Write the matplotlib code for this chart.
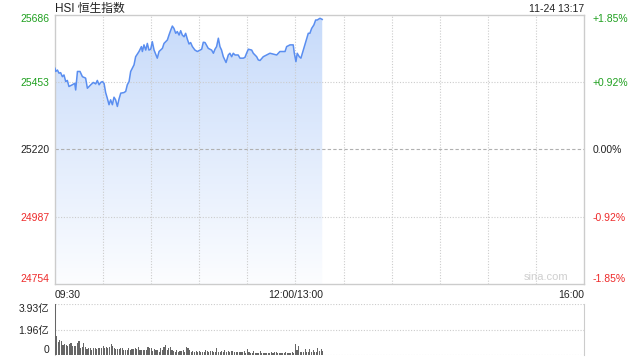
import numpy as np
import matplotlib
matplotlib.use("Agg")
import matplotlib.pyplot as plt

plt.rcParams['font.family'] = ['Liberation Sans', 'Noto Sans CJK SC', 'DejaVu Sans']

PREV_CLOSE = 25220
Y_LOW, Y_HIGH = 24754, 25686
GREEN = '#1fa01f'
RED = '#ee2a2a'
GRID = '#cccccc'

# minutes since 09:30 (lunch break removed: 150 = 12:00/13:00)
price_t = [0, 0.4, 1.5, 2.5, 3.5, 4.6, 5.6, 6.7, 7.7, 8.7, 10.8, 12.3, 12.9, 14, 15.6,
           17.1, 19.1, 20.2, 22.3, 23.9, 25.4, 26.4, 27.5, 28.5, 29.5, 30.6, 31.6, 32.6,
           33.7, 34.7, 35.8, 36.8, 37.8, 38.9, 39.9, 41, 43, 44.1, 45.1, 46.2, 47.2, 49.3,
           50.3, 52.4, 53.9, 54.5, 55.5, 56.6, 57.6, 58.6, 59.7, 60.7, 61.8, 63.8, 64.9,
           67, 68, 70.1, 71.1, 72.2, 73.2, 74.2, 75.3, 76.3, 77.4, 78.4, 79.4, 80.5, 81.5,
           82.6, 83.6, 84.6, 85.7, 87.3, 88.8, 90.4, 91.5, 92.5, 93.6, 95.6, 97.7, 98.8,
           99.8, 100.8, 101.9, 102.9, 103.9, 105, 106.7, 108.1, 109.1, 110.2, 111.2, 112.3,
           114.3, 115.4, 117.5, 118.5, 119.5, 120.6, 122.7, 123.7, 125.8, 126.8, 127.9,
           129.9, 132, 134.1, 138.3, 140.3, 143.5, 144.5, 146.6, 148.6, 149.3, 150.3, 151.1,
           152.4, 153.4, 154.9, 156.5, 158, 159, 160.1, 161.5, 162.6, 163.6, 165.3, 166.7]
price = [25500, 25489, 25494, 25483, 25485, 25471, 25477, 25454, 25458, 25437, 25443, 25448,
         25425, 25489, 25489, 25471, 25466, 25431, 25443, 25451, 25446, 25458, 25443, 25451,
         25454, 25448, 25416, 25397, 25374, 25391, 25374, 25400, 25391, 25368, 25393, 25414,
         25416, 25420, 25443, 25454, 25489, 25512, 25540, 25558, 25575, 25558, 25581, 25563,
         25586, 25563, 25566, 25592, 25563, 25535, 25558, 25569, 25586, 25598, 25615, 25632,
         25646, 25638, 25621, 25627, 25615, 25630, 25615, 25609, 25621, 25600, 25584, 25589,
         25575, 25563, 25558, 25563, 25566, 25590, 25589, 25569, 25563, 25552, 25566, 25575,
         25604, 25575, 25563, 25540, 25520, 25546, 25552, 25540, 25552, 25546, 25546, 25535,
         25535, 25538, 25552, 25566, 25563, 25552, 25540, 25529, 25527, 25540, 25546, 25552,
         25546, 25558, 25558, 25575, 25581, 25581, 25552, 25523, 25552, 25540, 25535, 25563,
         25592, 25621, 25621, 25638, 25650, 25667, 25667, 25673, 25669]

# volume per minute, in 亿
volume = [3.93, 1.47, 0.98, 1.16, 1.08, 0.77, 0.85, 0.80, 0.72, 0.83, 0.90, 0.70, 0.72, 0.72,
          0.90, 1.08, 0.57, 0.60, 0.90, 0.62, 0.46, 0.57, 0.52, 0.41, 0.52, 0.52, 0.50, 0.52,
          0.52, 0.52, 0.67, 0.57, 0.62, 0.57, 0.60, 0.83, 0.67, 0.52, 0.46, 0.46, 0.48, 0.52,
          0.52, 0.39, 0.39, 0.41, 0.52, 0.39, 0.46, 0.50, 0.57, 0.46, 0.62, 0.39, 0.39, 0.39,
          0.39, 0.39, 0.64, 0.52, 0.52, 0.31, 0.46, 0.39, 0.36, 0.26, 0.52, 0.39, 0.64, 0.77,
          0.39, 0.52, 0.59, 0.39, 0.31, 0.26, 0.39, 0.21, 0.31, 0.31, 0.39, 0.26, 0.62, 0.57,
          0.39, 0.21, 0.33, 0.26, 0.31, 0.26, 0.31, 0.21, 0.26, 0.26, 0.39, 0.31, 0.26, 0.31,
          0.31, 0.21, 0.26, 0.52, 0.26, 0.26, 0.31, 0.26, 0.36, 0.21, 0.31, 0.26, 0.33, 0.28,
          0.26, 0.26, 0.21, 0.26, 0.21, 0.26, 0.31, 0.15, 0.46, 0.21, 0.15, 0.15, 0.31, 0.15,
          0.15, 0.15, 0.31, 0.15, 0.15, 0.15, 0.13, 0.15, 0.13, 0.21, 0.13, 0.26, 0.21, 0.15,
          0.15, 0.13, 0.15, 0.13, 0.21, 0.15, 0.13, 0.15, 0.21, 0.13, 0.85, 0.39, 0.70, 0.21,
          0.21, 0.26, 0.46, 0.26, 0.21, 0.46, 0.26, 0.36, 0.26, 0.21, 0.52, 0.31, 0.46, 0.31]

price_ticks = [24754, 24987, 25220, 25453, 25686]
x_ticks = [0, 150, 330]
x_labels = ['09:30', '12:00/13:00', '16:00']
vol_ticks = [0, 1.96, 3.93]
vol_labels = ['0', '1.96亿', '3.93亿']


def tick_color(v):
    if v > PREV_CLOSE:
        return GREEN
    if v < PREV_CLOSE:
        return RED
    return '#222222'


fig = plt.figure(figsize=(6.4, 3.6), dpi=100)
ax = fig.add_axes([55 / 640, 1 - 284 / 360, 529 / 640, 269.5 / 360])
axv = fig.add_axes([55 / 640, 1 - 355 / 360, 529 / 640, 51 / 360])

# price panel
ax.set_xlim(0, 330)
ax.set_ylim(Y_LOW, Y_HIGH)
for s in ax.spines.values():
    s.set_color(GRID)
    s.set_linewidth(1)

# grid drawn over the fill, under the line
for m in range(30, 330, 30):
    ax.axvline(m, color=GRID, lw=0.8, ls=(0, (1, 1.5)), zorder=2.5)
for v in [24987, 25453]:
    ax.axhline(v, color=GRID, lw=0.8, ls=(0, (1, 1.5)), zorder=2.5)
ax.axhline(PREV_CLOSE, color='#b0b0b0', lw=0.8, ls=(0, (3, 2)), zorder=2.5)

poly = ax.fill_between(price_t, price, Y_LOW, facecolor='none', edgecolor='none')
top = np.array([198, 218, 250]) / 255
bottom = np.array([252, 253, 255]) / 255
frac = np.linspace(0, 1, 256)[:, None]
grad = (top * (1 - frac) + bottom * frac)[:, None, :]
im = ax.imshow(grad, extent=[0, 330, Y_LOW, Y_HIGH], aspect='auto', origin='upper', zorder=2)
im.set_clip_path(poly.get_paths()[0], transform=ax.transData)
ax.plot(price_t, price, color='#5a8ef0', lw=1.1, zorder=3)

ax.set_yticks(price_ticks)
ax.set_yticklabels([str(v) for v in price_ticks])
ax.tick_params(axis='y', length=0, pad=4, labelsize=7.5)
for lab, v in zip(ax.get_yticklabels(), price_ticks):
    lab.set_color(tick_color(v))
ax.get_yticklabels()[0].set_va('bottom')
ax.get_yticklabels()[-1].set_va('top')

ax.set_xticks(x_ticks)
ax.set_xticklabels(x_labels)
ax.tick_params(axis='x', length=0, pad=4, labelsize=7.5, colors='#222222')
ax.get_xticklabels()[0].set_ha('left')
ax.get_xticklabels()[-1].set_ha('right')

axr = ax.twinx()
axr.set_ylim(Y_LOW, Y_HIGH)
axr.set_yticks(price_ticks)
pct = [(v - PREV_CLOSE) / PREV_CLOSE * 100 for v in price_ticks]
axr.set_yticklabels([('+' if p > 0.001 else '') + '%.2f%%' % p if abs(p) > 0.001 else '0.00%' for p in pct])
axr.tick_params(axis='y', length=0, pad=6, labelsize=7.5)
for lab, v in zip(axr.get_yticklabels(), price_ticks):
    lab.set_color(tick_color(v))
axr.get_yticklabels()[0].set_va('bottom')
axr.get_yticklabels()[-1].set_va('top')
for s in axr.spines.values():
    s.set_visible(False)

ax.text(0.97, 0.008, 'sina.com', transform=ax.transAxes, ha='right', va='bottom',
        fontsize=8, color='#cfcfcf', zorder=4)

fig.text(55 / 640, 1 - 12 / 360, 'HSI 恒生指数', fontsize=8.5, color='#222222',
         ha='left', va='baseline')
fig.text(584 / 640, 1 - 11.5 / 360, '11-24 13:17', fontsize=7.5, color='#222222',
         ha='right', va='baseline')

# volume panel
axv.set_xlim(0, 330)
axv.set_ylim(0, 3.93)
axv.bar(np.arange(len(volume)), volume, width=0.7, color='#666666', zorder=3)
for v in vol_ticks:
    axv.axhline(v, color=GRID, lw=0.8, ls=(0, (1, 1.5)), zorder=1)
axv.spines['top'].set_visible(False)
axv.spines['bottom'].set_visible(False)
axv.spines['left'].set_color(GRID)
axv.spines['right'].set_color(GRID)
axv.set_xticks([])
axv.set_yticks(vol_ticks)
axv.set_yticklabels(vol_labels)
axv.tick_params(axis='y', length=0, pad=4, labelsize=7.5, colors='#222222')
axv.get_yticklabels()[0].set_va('bottom')
axv.get_yticklabels()[-1].set_va('top')

fig.savefig('out.png', dpi=100)
